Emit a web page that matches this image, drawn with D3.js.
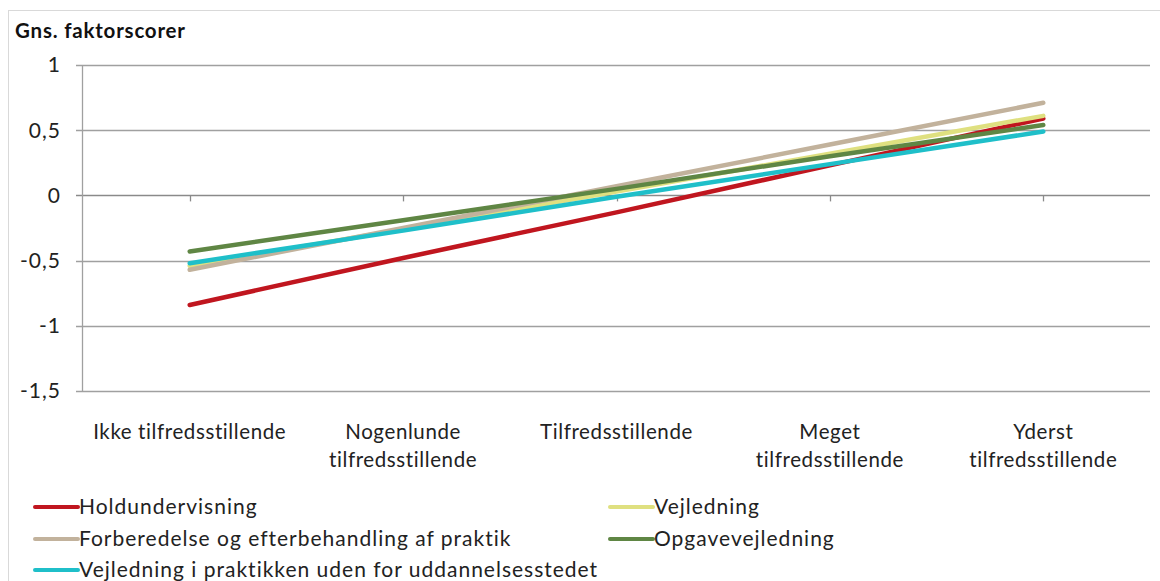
<!DOCTYPE html>
<html>
<head>
<meta charset="utf-8">
<script src="https://cdn.jsdelivr.net/npm/d3@7"></script>
<style>
  body { margin: 0; background: #fff; }
  svg { display: block; font-family: Lato, "Open Sans", sans-serif; }
</style>
</head>
<body>
<svg id="chart"></svg>
<script>
const categories = [
  ['Ikke tilfredsstillende'],
  ['Nogenlunde', 'tilfredsstillende'],
  ['Tilfredsstillende'],
  ['Meget', 'tilfredsstillende'],
  ['Yderst', 'tilfredsstillende']
];
const seriesNames = [
  'Holdundervisning',
  'Vejledning',
  'Forberedelse og efterbehandling af praktik',
  'Opgavevejledning',
  'Vejledning i praktikken uden for uddannelsesstedet'
];
const holdundervisning = [-0.84, -0.48, -0.13, 0.23, 0.59];
const vejledning = [-0.54, -0.26, 0.03, 0.32, 0.61];
const forberedelse = [-0.57, -0.25, 0.07, 0.39, 0.71];
const opgavevejledning = [-0.43, -0.19, 0.05, 0.30, 0.54];
const praktikken = [-0.52, -0.27, -0.01, 0.24, 0.49];
const yTicks = [-1.5, -1, -0.5, 0, 0.5, 1];
const colors = ['#c0161f', '#dfe080', '#c2b29c', '#5f8644', '#1fbfc9'];

const seriesValues = [holdundervisning, vejledning, forberedelse, opgavevejledning, praktikken];
const series = seriesNames.map((name, i) => ({ name, values: seriesValues[i], color: colors[i] }));

const width = 1160, height = 581;
const svg = d3.select('#chart').attr('width', width).attr('height', height);

// outer chart border
svg.append('rect')
  .attr('x', 8.5).attr('y', 10.5)
  .attr('width', width).attr('height', height)
  .attr('fill', 'none').attr('stroke', '#d9d9d9');

const catKeys = categories.map(c => c.join(' '));
const x = d3.scalePoint().domain(catKeys).range([83, 1150]).padding(0.5);
const y = d3.scaleLinear().domain([-1.5, 1]).range([391, 65]);

// grid lines
svg.append('g')
  .selectAll('line')
  .data(yTicks)
  .join('line')
  .attr('x1', 76).attr('x2', 1150)
  .attr('y1', d => Math.round(y(d)) + 0.5)
  .attr('y2', d => Math.round(y(d)) + 0.5)
  .attr('stroke', d => d === 0 ? '#8a8a8a' : '#a0a0a0')
  .attr('stroke-width', 1.3);

// y axis line
svg.append('line')
  .attr('x1', 82.5).attr('x2', 82.5)
  .attr('y1', y(1)).attr('y2', y(-1.5))
  .attr('stroke', '#a0a0a0').attr('stroke-width', 1.3);

// category ticks on the zero line
svg.append('g')
  .selectAll('line')
  .data(catKeys)
  .join('line')
  .attr('x1', d => Math.round(x(d)) + 0.5)
  .attr('x2', d => Math.round(x(d)) + 0.5)
  .attr('y1', y(0)).attr('y2', y(0) + 6)
  .attr('stroke', '#8a8a8a').attr('stroke-width', 1.3);

// y tick labels
svg.append('g')
  .selectAll('text')
  .data(yTicks)
  .join('text')
  .attr('x', 61).attr('y', d => y(d))
  .attr('dy', '0.35em')
  .attr('text-anchor', 'end')
  .attr('font-size', 21)
  .attr('letter-spacing', 1)
  .attr('fill', '#222')
  .text(d => String(d).replace('.', ','));

// title
svg.append('text')
  .attr('x', 15).attr('y', 38)
  .attr('font-size', 20.5).attr('font-weight', 'bold')
  .attr('letter-spacing', 0.8)
  .attr('fill', '#111')
  .text('Gns. faktorscorer');

// x labels
const xl = svg.append('g')
  .selectAll('text')
  .data(categories)
  .join('text')
  .attr('x', (d, i) => x(catKeys[i]))
  .attr('y', 439)
  .attr('text-anchor', 'middle')
  .attr('font-size', 20.5)
  .attr('letter-spacing', 0.6)
  .attr('fill', '#222');
xl.selectAll('tspan')
  .data(d => d)
  .join('tspan')
  .attr('x', function () { return this.parentNode.getAttribute('x'); })
  .attr('dy', (d, i) => i === 0 ? 0 : 28)
  .text(d => d);

// lines
const line = d3.line()
  .x((d, i) => x(catKeys[i]))
  .y(d => y(d));

svg.append('g')
  .selectAll('path')
  .data(series)
  .join('path')
  .attr('d', d => line(d.values))
  .attr('fill', 'none')
  .attr('stroke', d => d.color)
  .attr('stroke-width', 4.5)
  .attr('stroke-linecap', 'round');

// legend
const legendPos = [
  [35, 507], [610, 507],
  [35, 539], [610, 539],
  [35, 570]
];
const lg = svg.append('g')
  .selectAll('g')
  .data(series)
  .join('g')
  .attr('transform', (d, i) => `translate(${legendPos[i][0]},${legendPos[i][1]})`);
lg.append('line')
  .attr('x1', 0).attr('x2', 43)
  .attr('stroke', d => d.color)
  .attr('stroke-width', 4)
  .attr('stroke-linecap', 'round');
lg.append('text')
  .attr('x', 44).attr('dy', '0.35em')
  .attr('font-size', 21)
  .attr('letter-spacing', 1)
  .attr('fill', '#222')
  .text(d => d.name);
</script>
</body>
</html>
